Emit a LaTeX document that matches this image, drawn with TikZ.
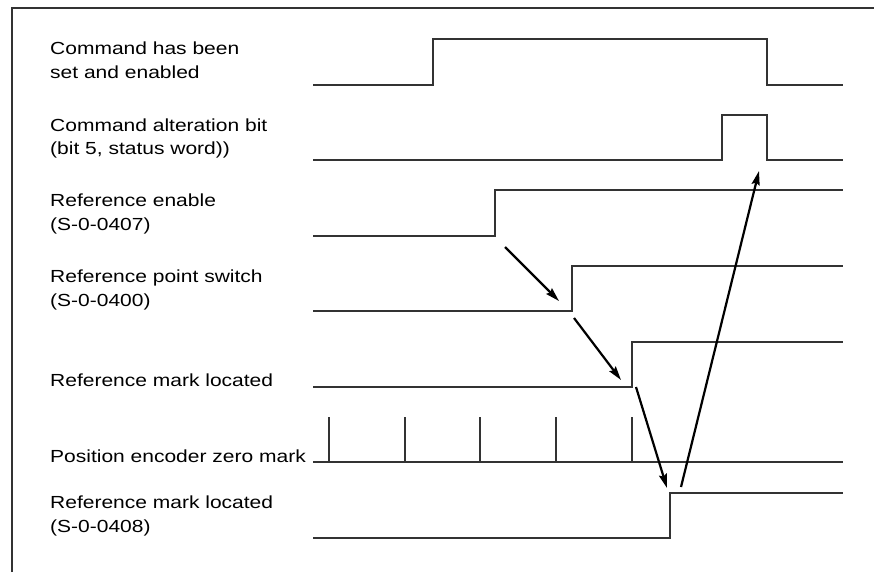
\documentclass[tikz,border=0pt]{standalone}
\usepackage{fontspec}
\setmainfont{Liberation Sans}[FakeStretch=1.2]
\usetikzlibrary{arrows.meta}
\begin{document}
\begin{tikzpicture}[x=1pt,y=-1pt,
  signal/.style={line width=1.3pt,draw=black!80},
  lbl/.style={anchor=base west,inner sep=0pt,align=left,
    font=\fontsize{17.5}{24}\selectfont},
  cause/.style={line width=2.2pt,-{Stealth[length=14pt,width=8pt,inset=2pt]}}]
\useasboundingbox (0,0) rectangle (874,572);
% frame
\draw[line width=1.5pt,black!80] (12,572) -- (12,8) -- (874,8);

% signal labels (base anchor sits on the last line)
\node[lbl] (l1) at (50,79) {Command has been\\set and enabled};
\node[lbl] (l2) at (50,155) {Command alteration bit\\(bit 5, status word))};
\node[lbl] (l3) at (50,230) {Reference enable\\(S-0-0407)};
\node[lbl] (l4) at (50,306) {Reference point switch\\(S-0-0400)};
\node[lbl] (l5) at (50,386) {Reference mark located};
\node[lbl] (l6) at (50,462) {Position encoder zero mark};
\node[lbl] (l7) at (50,532) {Reference mark located\\(S-0-0408)};

% waveforms
\draw[signal] (313,85) -- (433,85) -- (433,39) -- (767,39) -- (767,85) -- (843,85);
\draw[signal] (313,160) -- (722,160) -- (722,115) -- (767,115) -- (767,160) -- (843,160);
\draw[signal] (313,236) -- (495,236) -- (495,190) -- (843,190);
\draw[signal] (313,311) -- (572,311) -- (572,266) -- (843,266);
\draw[signal] (313,387) -- (632,387) -- (632,342) -- (843,342);
\draw[signal] (313,462) -- (843,462);
\foreach \tx in {329,405,480,556,632}
  \draw[signal] (\tx,462) -- (\tx,417);
\draw[signal] (313,538) -- (670,538) -- (670,493) -- (843,493);

% cause-effect arrows
\coordinate (a1s) at (505,247);
\coordinate (a1e) at (559,301);
\coordinate (a2s) at (574,318);
\coordinate (a2e) at (621,380);
\coordinate (a3s) at (636,387);
\coordinate (a3e) at (667,488);
\coordinate (a4s) at (681,487);
\coordinate (a4e) at (759,171);
\draw[cause] (a1s) -- (a1e);
\draw[cause] (a2s) -- (a2e);
\draw[cause] (a3s) -- (a3e);
\draw[cause] (a4s) -- (a4e);
\end{tikzpicture}
\end{document}
